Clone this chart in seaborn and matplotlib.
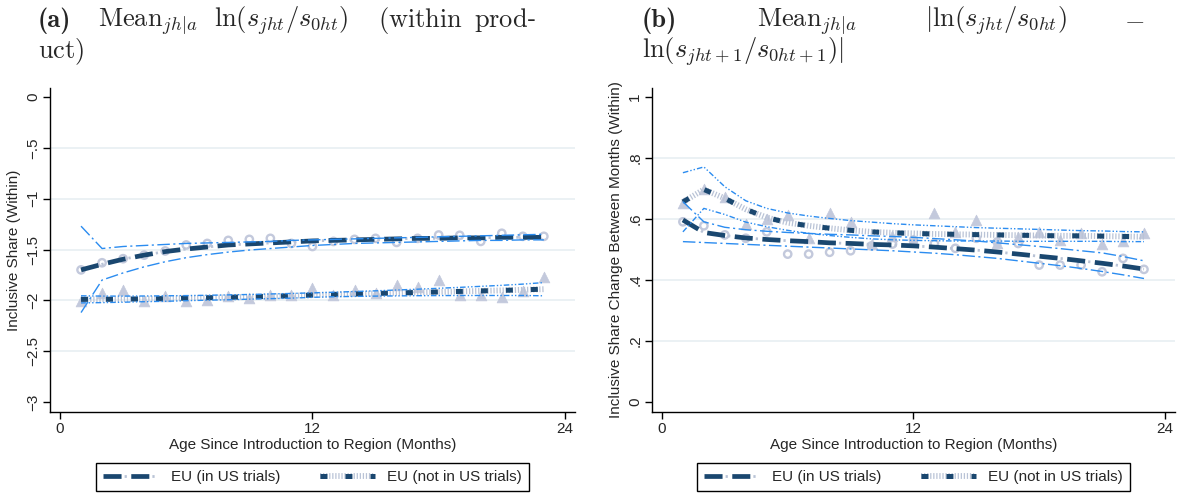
import numpy as np
import matplotlib
matplotlib.use("Agg")
import matplotlib.pyplot as plt
import seaborn as sns
from matplotlib.lines import Line2D

# DATA
months = list(range(1, 24))

# panel (a): ln(s_jht / s_0ht), within product
fit_in_a   = [-1.70, -1.645, -1.595, -1.555, -1.52, -1.495, -1.475, -1.455, -1.445, -1.435, -1.425, -1.415,
              -1.41, -1.405, -1.40, -1.395, -1.39, -1.39, -1.385, -1.385, -1.38, -1.38, -1.38]
hi_in_a    = [-1.27, -1.49, -1.47, -1.46, -1.45, -1.44, -1.435, -1.43, -1.425, -1.42, -1.41, -1.405,
              -1.40, -1.395, -1.39, -1.385, -1.38, -1.375, -1.37, -1.365, -1.36, -1.355, -1.35]
lo_in_a    = [-2.12, -1.80, -1.73, -1.67, -1.62, -1.58, -1.55, -1.525, -1.505, -1.49, -1.475, -1.46,
              -1.45, -1.44, -1.435, -1.43, -1.425, -1.42, -1.415, -1.41, -1.41, -1.405, -1.405]
pts_in_a   = [-1.70, -1.63, -1.59, -1.555, -1.514, -1.455, -1.44, -1.41, -1.40, -1.39, -1.44, -1.47,
              -1.42, -1.40, -1.39, -1.43, -1.39, -1.357, -1.36, -1.42, -1.34, -1.37, -1.37]

fit_out_a  = [-1.99, -1.99, -1.988, -1.985, -1.982, -1.978, -1.974, -1.97, -1.965, -1.96, -1.955, -1.948,
              -1.942, -1.937, -1.932, -1.927, -1.922, -1.917, -1.912, -1.907, -1.902, -1.896, -1.89]
hi_out_a   = [-1.955, -1.958, -1.958, -1.957, -1.955, -1.953, -1.95, -1.946, -1.942, -1.937, -1.932, -1.926,
              -1.92, -1.913, -1.906, -1.898, -1.89, -1.881, -1.872, -1.862, -1.852, -1.84, -1.825]
lo_out_a   = [-2.025, -2.022, -2.018, -2.013, -2.009, -2.003, -1.998, -1.994, -1.988, -1.983, -1.978, -1.97,
              -1.964, -1.961, -1.958, -1.956, -1.954, -1.953, -1.952, -1.952, -1.952, -1.952, -1.955]
pts_out_a  = [-2.01, -1.93, -1.90, -2.01, -1.96, -2.01, -2.0, -1.96, -1.98, -1.95, -1.95, -1.88,
              -1.95, -1.90, -1.93, -1.85, -1.87, -1.80, -1.95, -1.95, -1.97, -1.91, -1.77]

# panel (b): |change between months|
fit_in_b   = [0.597, 0.556, 0.546, 0.538, 0.533, 0.529, 0.526, 0.522, 0.520, 0.517, 0.515, 0.512,
              0.508, 0.503, 0.498, 0.492, 0.485, 0.478, 0.471, 0.463, 0.455, 0.446, 0.436]
hi_in_b    = [0.657, 0.591, 0.573, 0.565, 0.560, 0.556, 0.553, 0.550, 0.548, 0.545, 0.543, 0.540,
              0.536, 0.532, 0.528, 0.522, 0.516, 0.510, 0.503, 0.496, 0.489, 0.477, 0.463]
lo_in_b    = [0.526, 0.523, 0.520, 0.517, 0.514, 0.511, 0.508, 0.505, 0.502, 0.499, 0.496, 0.492,
              0.488, 0.483, 0.477, 0.471, 0.463, 0.455, 0.447, 0.438, 0.428, 0.417, 0.405]
pts_in_b   = [0.591, 0.578, 0.548, 0.537, 0.558, 0.485, 0.485, 0.491, 0.496, 0.512, 0.518, 0.531,
              0.520, 0.504, 0.537, 0.525, 0.520, 0.449, 0.449, 0.449, 0.427, 0.471, 0.435]

fit_out_b  = [0.656, 0.697, 0.668, 0.632, 0.605, 0.588, 0.578, 0.570, 0.563, 0.558, 0.555, 0.553,
              0.551, 0.550, 0.549, 0.548, 0.547, 0.546, 0.545, 0.545, 0.544, 0.543, 0.542]
hi_out_b   = [0.752, 0.771, 0.706, 0.660, 0.635, 0.620, 0.610, 0.602, 0.595, 0.590, 0.585, 0.581,
              0.578, 0.575, 0.572, 0.570, 0.568, 0.566, 0.564, 0.562, 0.561, 0.559, 0.558]
lo_out_b   = [0.558, 0.635, 0.615, 0.590, 0.575, 0.563, 0.553, 0.546, 0.540, 0.535, 0.532, 0.530,
              0.529, 0.528, 0.528, 0.528, 0.527, 0.527, 0.527, 0.527, 0.527, 0.526, 0.526]
pts_out_b  = [0.653, 0.700, 0.671, 0.583, 0.599, 0.613, 0.537, 0.619, 0.591, 0.518, 0.545, 0.531,
              0.619, 0.558, 0.597, 0.520, 0.540, 0.558, 0.531, 0.555, 0.518, 0.529, 0.555]

yticks_a = [0, -0.5, -1, -1.5, -2, -2.5, -3]
ylabels_a = ["0", "\u2212.5", "\u22121", "\u22121.5", "\u22122", "\u22122.5", "\u22123"]
yticks_b = [0, 0.2, 0.4, 0.6, 0.8, 1]
ylabels_b = ["0", ".2", ".4", ".6", ".8", "1"]
xticks = [0, 12, 24]

series_names = ["EU (in US trials)", "EU (not in US trials)"]

# STYLE
sns.set_theme(style="white")
plt.rcParams["font.family"] = ["Liberation Sans", "DejaVu Sans"]
plt.rcParams["mathtext.fontset"] = "cm"
plt.rcParams["lines.scale_dashes"] = False
plt.rcParams["lines.solid_capstyle"] = "butt"
plt.rcParams["lines.dash_capstyle"] = "butt"

NAVY = "#1a476f"
BLUE = "#2b8cf0"
LIGHT = "#c3c9dc"
DOTS = "#b9c3d6"
GRID = "#e6eef1"

W, H = 1183, 497
fig = plt.figure(figsize=(W / 100, H / 100), dpi=100)


def px(x0, y0, x1, y1):
    return [x0 / W, 1 - y1 / H, (x1 - x0) / W, (y1 - y0) / H]


ax_a = fig.add_axes(px(50, 88, 575, 412))
ax_b = fig.add_axes(px(652, 88, 1175, 412))


def draw_fit_in(ax, y):
    sns.lineplot(x=months, y=y, ax=ax, color=NAVY, lw=3.4, linestyle=(0, (13, 7)))
    sns.lineplot(x=months, y=y, ax=ax, color=DOTS, lw=2.0, linestyle=(-15.2, (1.6, 18.4)))


def draw_fit_out(ax, y):
    sns.lineplot(x=months, y=y, ax=ax, color=DOTS, lw=4.2, linestyle=(0, (0.9, 1.3)))
    sns.lineplot(x=months, y=y, ax=ax, color=NAVY, lw=3.6, linestyle=(0, (5, 13)))


def draw_panel(ax, fit_in, hi_in, lo_in, pts_in, fit_out, hi_out, lo_out, pts_out):
    sns.scatterplot(x=months, y=pts_in, ax=ax, marker="o", s=28, facecolor="none",
                    edgecolor=LIGHT, linewidth=1.7, zorder=2)
    sns.scatterplot(x=months, y=pts_out, ax=ax, marker="^", s=60, color=LIGHT,
                    edgecolor=LIGHT, linewidth=0.5, zorder=2)
    draw_fit_in(ax, fit_in)
    draw_fit_out(ax, fit_out)
    for yy in (hi_in, lo_in):
        sns.lineplot(x=months, y=yy, ax=ax, color=BLUE, lw=1.0, linestyle=(0, (9, 2.5, 1.5, 2.5)))
    for yy in (hi_out, lo_out):
        sns.lineplot(x=months, y=yy, ax=ax, color=BLUE, lw=1.0, linestyle=(0, (4, 1.5, 1, 1.5, 1, 1.5)))


draw_panel(ax_a, fit_in_a, hi_in_a, lo_in_a, pts_in_a, fit_out_a, hi_out_a, lo_out_a, pts_out_a)
draw_panel(ax_b, fit_in_b, hi_in_b, lo_in_b, pts_in_b, fit_out_b, hi_out_b, lo_out_b, pts_out_b)

for ax, yt, yl, ylim, ylab in [
    (ax_a, yticks_a, ylabels_a, (-3.098, 0.089), "Inclusive Share (Within)"),
    (ax_b, yticks_b, ylabels_b, (-0.033, 1.03), "Inclusive Share Change Between Months (Within)"),
]:
    ax.set_xlim(-0.475, 24.48)
    ax.set_ylim(*ylim)
    ax.set_xticks(xticks)
    ax.set_xticklabels([str(t) for t in xticks], fontsize=11)
    ax.set_yticks(yt)
    ax.set_yticklabels(yl, fontsize=11, rotation=90, va="center")
    for t in yt[1:-1]:
        ax.axhline(t, color=GRID, lw=1.1, zorder=0)
    for side in ("top", "right"):
        ax.spines[side].set_visible(False)
    for side in ("left", "bottom"):
        ax.spines[side].set_color("black")
        ax.spines[side].set_linewidth(1.0)
    ax.tick_params(axis="both", direction="out", length=5, width=1, color="black", pad=2,
                   bottom=True, left=True)
    ax.set_xlabel("Age Since Introduction to Region (Months)", fontsize=11, labelpad=2)
    ax.set_ylabel(ylab, fontsize=11, labelpad=4)
    ax.set_facecolor("white")

    h_in = (Line2D([], [], color=NAVY, lw=3.4, linestyle=(0, (13, 7))),
            Line2D([], [], color=DOTS, lw=2.0, linestyle=(-15.2, (1.6, 18.4))))
    h_out = (Line2D([], [], color=DOTS, lw=4.2, linestyle=(0, (0.9, 1.3))),
             Line2D([], [], color=NAVY, lw=3.6, linestyle=(0, (5, 13))))
    leg = ax.legend([h_in, h_out], series_names, loc="upper center", bbox_to_anchor=(0.5, -0.135),
                    ncol=2, frameon=True, fancybox=False, framealpha=1, edgecolor="black",
                    fontsize=11, handlelength=3.6, columnspacing=2.6, borderpad=0.45,
                    handletextpad=0.8)
    leg.get_frame().set_linewidth(1.0)


def ftext(x, y, s, **kw):
    fig.text(x / W, 1 - y / H, s, fontsize=19, va="baseline", ha="left", **kw)


# titles, laid out as justified LaTeX lines
ftext(38, 27, "(a)", family="cmb10")
ftext(98, 27, r"$\mathrm{Mean}_{jh|a}$")
ftext(214, 27, r"$\ln(s_{jht}/s_{0ht})$")
ftext(378, 27, r"$\mathrm{(within}$")
ftext(474, 27, r"$\mathrm{prod}$-")
ftext(38, 58, r"$\mathrm{uct)}$")

ftext(642, 27, "(b)", family="cmb10")
ftext(757, 27, r"$\mathrm{Mean}_{jh|a}$")
ftext(925, 27, r"$|\ln(s_{jht}/s_{0ht})$")
ftext(1124, 27, r"$-$")
ftext(642, 58, r"$\ln(s_{jht+1}/s_{0ht+1})|$")

fig.savefig("out.png", dpi=100, facecolor="white")
